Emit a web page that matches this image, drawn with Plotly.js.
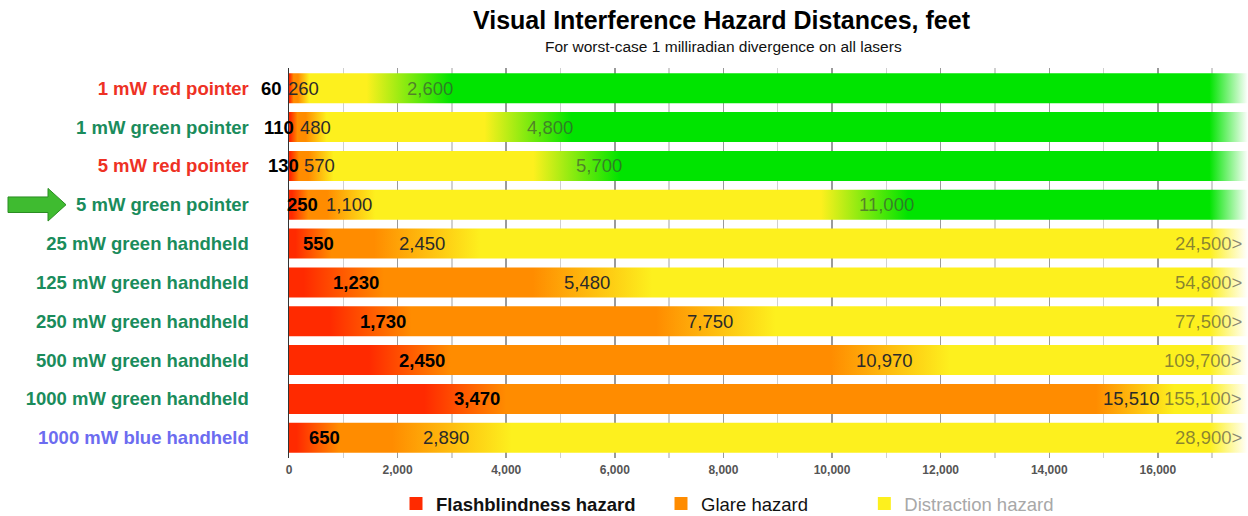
<!DOCTYPE html>
<html>
<head>
<meta charset="utf-8">
<script src="https://cdn.plot.ly/plotly-3.0.1.min.js"></script>
<style>html,body{margin:0;padding:0;background:#fff;}#chart{width:1248px;height:516px;}</style>
</head>
<body>
<div id="chart"></div>
<script>
// ---- data ----
const lasers = ['1 mW red pointer', '1 mW green pointer', '5 mW red pointer', '5 mW green pointer',
  '25 mW green handheld', '125 mW green handheld', '250 mW green handheld', '500 mW green handheld',
  '1000 mW green handheld', '1000 mW blue handheld'];
const flashblindness = [60, 110, 130, 250, 550, 1230, 1730, 2450, 3470, 650];
const glare = [260, 480, 570, 1100, 2450, 5480, 7750, 10970, 15510, 2890];
const distraction = [2600, 4800, 5700, 11000, 24500, 54800, 77500, 109700, 155100, 28900];
const highlighted = '5 mW green pointer';
const xTickVals = [0, 2000, 4000, 6000, 8000, 10000, 12000, 14000, 16000];
const legendNames = ['Flashblindness hazard', 'Glare hazard', 'Distraction hazard'];

// ---- style ----
const FONT = '"Liberation Sans", Arial, Helvetica, sans-serif';
const AXIS_MAX = 17660;
const FADE_START = 16950;
const RED = '#ff2a00', ORANGE = '#ff8c00', YELLOW = '#fdf01e', GREEN = '#00e400', WHITE = '#ffffff';
const labelColor = n => n.includes('red') ? '#ee3124' : (n.includes('blue') ? '#6c6cf0' : '#1a8c5c');
const HALF = 0.386;
const ML = 289, MR = 0, MT = 68, MB = 58, W = 1248, H = 516;
const PLOT_W = W - ML - MR;
const PX_PER_FT = PLOT_W / AXIS_MAX;
const VAL_SIZE = 18.5;

const canvas = document.createElement('canvas');
const ctx = canvas.getContext('2d');
function textW(t, bold) { ctx.font = (bold ? 'bold ' : '') + VAL_SIZE + 'px "Liberation Sans"'; return ctx.measureText(t).width; }
const fmt = v => v.toLocaleString('en-US');

function gradientScale(i) {
  const pts = [[0, RED]];
  const add = (v, k, cap, f, c1, c2) => {
    const w = Math.min(k * v, cap, Math.max(FADE_START - v, 0));
    pts.push([v - f * w, c1]); pts.push([v + (1 - f) * w, c2]);
  };
  add(flashblindness[i], 1.2, 1500, 0.65, RED, ORANGE);
  add(glare[i], 0.8, 2200, 0.45, ORANGE, YELLOW);
  let last = YELLOW;
  if (distraction[i] < AXIS_MAX) { add(distraction[i], 0.6, 1600, 0.75, YELLOW, GREEN); last = GREEN; }
  pts.push([FADE_START, last]);
  pts.push([AXIS_MAX, WHITE]);
  let prev = 0;
  return pts.map(([x, c], k) => {
    let v = Math.min(Math.max(x, prev), AXIS_MAX) / AXIS_MAX;
    if (k === 0) v = 0;
    if (k === pts.length - 1) v = 1;
    prev = v * AXIS_MAX;
    return [v, c];
  });
}

const traces = lasers.map((name, i) => ({
  type: 'scatter', mode: 'lines', name: name, showlegend: false, hoverinfo: 'skip',
  x: [0, AXIS_MAX, AXIS_MAX, 0, 0],
  y: [i - HALF, i - HALF, i + HALF, i + HALF, i - HALF],
  line: {width: 0, color: 'rgba(0,0,0,0)'},
  fill: 'toself',
  fillgradient: {type: 'horizontal', colorscale: gradientScale(i), start: 0, stop: AXIS_MAX}
}));

const legendColors = [RED, ORANGE, YELLOW];
const NB = '\u00A0';
const legendLabels = [
  '<b>' + legendNames[0] + '</b>' + NB.repeat(4),
  legendNames[1] + NB.repeat(10),
  '<span style="color:#a8a8a8">' + legendNames[2] + '</span>'
];
legendNames.forEach((n, k) => traces.push({
  type: 'scatter', mode: 'markers', x: [null], y: [null], name: legendLabels[k], showlegend: true,
  marker: {symbol: 'square', size: 13, color: legendColors[k]}, hoverinfo: 'skip'
}));

const annotations = [];
lasers.forEach((name, i) => {
  const f = flashblindness[i], g = glare[i], d = distraction[i];
  const ft = fmt(f), gt = fmt(g);
  const wf = textW(ft, true), wg = textW(gt, false);
  const gLeft = g * PX_PER_FT - wg / 2;
  let fc = f * PX_PER_FT;
  if (fc + wf / 2 > gLeft - 6) fc = gLeft - 6 - wf / 2;
  annotations.push({x: f, y: i, xref: 'x', yref: 'y', text: '<b>' + ft + '</b>', showarrow: false,
    xanchor: 'center', yanchor: 'middle', xshift: fc - f * PX_PER_FT,
    font: {family: FONT, size: VAL_SIZE, color: '#000'}});
  annotations.push({x: g, y: i, xref: 'x', yref: 'y', text: gt, showarrow: false,
    xanchor: 'center', yanchor: 'middle',
    font: {family: FONT, size: VAL_SIZE, color: '#2a2a2a'}});
  if (d < AXIS_MAX) {
    annotations.push({x: d, y: i, xref: 'x', yref: 'y', text: fmt(d), showarrow: false,
      xanchor: 'center', yanchor: 'middle',
      font: {family: FONT, size: VAL_SIZE, color: 'rgba(60,60,60,0.6)'}});
  } else {
    annotations.push({x: AXIS_MAX, y: i, xref: 'x', yref: 'y', text: fmt(d) + '&gt;', showarrow: false,
      xanchor: 'right', yanchor: 'middle', xshift: -4,
      font: {family: FONT, size: VAL_SIZE, color: 'rgba(60,60,60,0.6)'}});
  }
});

// subtitle
annotations.push({xref: 'paper', yref: 'paper', x: (723 - ML) / PLOT_W, y: (H - MB - 47) / (H - MT - MB),
  text: 'For worst-case 1 milliradian divergence on all lasers', showarrow: false,
  xanchor: 'center', yanchor: 'middle', font: {family: FONT, size: 15.5, color: '#111'}});

// arrow pointing at highlighted laser
const hi = lasers.indexOf(highlighted);
const px = p => (p - ML) / PLOT_W;
const a0 = px(8), a1 = px(48), a2 = px(66);
const bT = hi - 0.2, bB = hi + 0.2, hT = hi - 0.42, hB = hi + 0.42;
const arrowPath = `M ${a0},${bT} L ${a1},${bT} L ${a1},${hT} L ${a2},${hi} L ${a1},${hB} L ${a1},${bB} L ${a0},${bB} Z`;

const layout = {
  width: W, height: H,
  margin: {l: ML, r: MR, t: MT, b: MB},
  paper_bgcolor: '#fff', plot_bgcolor: '#fff',
  font: {family: FONT},
  title: {text: 'Visual Interference Hazard Distances, feet', xref: 'container', yref: 'container',
    x: 721.5 / W, y: 1 - 20 / H, xanchor: 'center', yanchor: 'middle',
    font: {family: FONT, size: 25, color: '#000', weight: 'bold'}},
  xaxis: {range: [0, AXIS_MAX], tickvals: xTickVals, ticktext: xTickVals.map(fmt),
    showgrid: true, gridcolor: '#9a9a9a', gridwidth: 1.5, zeroline: false, showline: false,
    ticks: '', ticklabelstandoff: 3, tickfont: {family: FONT, size: 12, color: '#555', weight: 'bold'},
    minor: {dtick: 1000, tick0: 0, showgrid: true, gridcolor: '#d0d0d0', gridwidth: 1.5},
    fixedrange: true},
  yaxis: {range: [9 + 0.52, -0.52], tickvals: lasers.map((_, i) => i),
    ticktext: lasers.map(n => '<span style="color:' + labelColor(n) + '">' + n + '</span>'),
    showgrid: false, zeroline: false, showline: true, linecolor: '#333', linewidth: 1.5,
    ticks: '', ticklabelstandoff: 35,
    tickfont: {family: FONT, size: 18.5, weight: 'bold'}, fixedrange: true},
  legend: {orientation: 'h', xref: 'container', yref: 'container', x: 396 / W, y: 1 - 504 / H,
    xanchor: 'left', yanchor: 'middle', font: {family: FONT, size: 18.5, color: '#111'},
    bgcolor: 'rgba(0,0,0,0)', itemclick: false, itemdoubleclick: false},
  annotations: annotations,
  shapes: [{type: 'path', xref: 'paper', yref: 'y', path: arrowPath,
    fillcolor: '#3fbb30', line: {color: '#2a8d22', width: 1}}],
  showlegend: true
};

Plotly.newPlot('chart', traces, layout, {displayModeBar: false, staticPlot: true});
</script>
</body>
</html>
